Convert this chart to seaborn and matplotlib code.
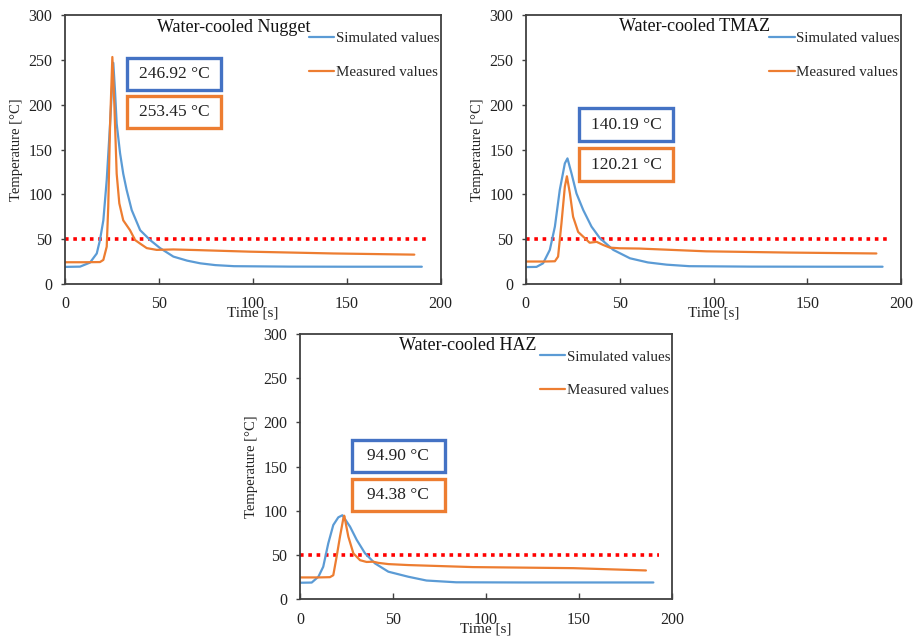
import numpy as np
import pandas as pd
import matplotlib
matplotlib.use("Agg")
import matplotlib.pyplot as plt
from matplotlib.patches import Rectangle
import seaborn as sns

# ---- data -------------------------------------------------------------
# Water-cooled Nugget
nugget_sim_t = [0, 8, 13.3, 16.9, 18.6, 20.4, 22.2, 24, 25.7, 26.6, 27.5, 29.3,
                31, 32.8, 35.5, 40, 45.3, 50.6, 57.7, 65, 72, 80, 90, 120, 150, 190]
nugget_sim_T = [19, 19.3, 23.8, 34, 49, 71, 116, 179, 246.92, 216, 179, 146,
                123, 105, 82.5, 60, 49, 40, 30.5, 26, 23, 21, 19.8, 19.3, 19.2, 19.2]
nugget_meas_t = [0, 10, 18.6, 20.4, 22.2, 23, 24, 25.2, 26.3, 27.5, 28.9, 31,
                 34.6, 37.3, 40, 43.5, 48.8, 57.7, 70, 98.5, 143, 186]
nugget_meas_T = [24.2, 24.2, 24.4, 26.8, 41.6, 86, 179, 253.45, 198, 123, 90, 71,
                 60, 49, 45, 40, 38, 38.5, 37.8, 36, 34, 32.7]

# Water-cooled TMAZ
tmaz_sim_t = [0, 5.7, 9.2, 12.8, 15.5, 18.1, 20.8, 22.2, 24.4, 27, 30.6, 35,
              39.5, 46.6, 55.5, 65, 75, 87, 120, 160, 190]
tmaz_sim_T = [18.8, 19, 23, 38, 64, 105, 134.6, 140.19, 123, 101, 82.5, 64,
              51, 38, 28.6, 24, 21.5, 19.8, 19.3, 19.2, 19.2]
tmaz_meas_t = [0, 10, 15.5, 17.2, 19, 20.8, 21.9, 23.5, 25.2, 27.9, 31.5, 34,
               37.7, 41.2, 44.8, 50, 60.4, 96, 140, 186.7]
tmaz_meas_T = [25, 25, 25.3, 30.5, 67.7, 108.6, 120.21, 101, 75, 58, 51, 46,
               47, 43.5, 40.5, 39.8, 39.5, 36.4, 35, 34]

# Water-cooled HAZ
haz_sim_t = [0, 6.3, 9.9, 12.5, 15.2, 17.9, 20.6, 22.8, 26.9, 30.5, 35, 40.3,
             47.5, 58.2, 68, 84, 120, 190]
haz_sim_T = [18.5, 18.7, 25.3, 36.6, 63, 83.8, 92.5, 94.90, 82, 67, 51.7, 40.4,
             31, 25.3, 21, 19, 18.8, 18.8]
haz_meas_t = [0, 10, 16.1, 17.9, 19.7, 21.5, 23.3, 23.8, 26, 28.7, 32.3, 35.8,
              39.4, 42.1, 47.5, 58.2, 93, 147, 186]
haz_meas_T = [24.5, 24.5, 24.8, 27, 48, 70.6, 91.3, 94.38, 70.6, 51.7, 44, 42,
              42.3, 41, 39.6, 38.5, 36.2, 35, 32.4]

titles = ["Water-cooled Nugget", "Water-cooled TMAZ", "Water-cooled HAZ"]
series_names = ["Simulated values", "Measured values"]
threshold_T = 50
threshold_span = [0, 193]
x_ticks = [0, 50, 100, 150, 200]
y_ticks = [0, 50, 100, 150, 200, 250, 300]

# ---- styling ----------------------------------------------------------
sns.set_style("white")
plt.rcParams["font.family"] = ["Liberation Serif", "DejaVu Serif"]

SIM_COLOR = "#5B9BD5"
MEAS_COLOR = "#ED7D31"
SIM_BOX = "#4472C4"
MEAS_BOX = "#ED7D31"
SPINE = "#404040"
TEXT = "#222222"

fig = plt.figure(figsize=(9.16, 6.38), dpi=100)
axes = [
    fig.add_axes([0.071, 0.555, 0.410, 0.421]),
    fig.add_axes([0.574, 0.555, 0.410, 0.421]),
    fig.add_axes([0.3275, 0.061, 0.4061, 0.4155]),
]

panels = [
    (nugget_sim_t, nugget_sim_T, nugget_meas_t, nugget_meas_T),
    (tmaz_sim_t, tmaz_sim_T, tmaz_meas_t, tmaz_meas_T),
    (haz_sim_t, haz_sim_T, haz_meas_t, haz_meas_T),
]

# value boxes: (x0, width) in data units, and y ranges for blue / orange box
box_geom = [
    (33.2, 49.7, (217, 252), (174, 210)),
    (28.4, 50.2, (160, 196), (115, 151.5)),
    (27.8, 50.2, (143.6, 180), (100, 136)),
]
title_y = [286, 287, 287]

for ax, (st, sT, mt, mT), title, (bx, bw, yb, yo), ty in zip(
        axes, panels, titles, box_geom, title_y):
    df = pd.concat([
        pd.DataFrame({"Time": st, "Temperature": sT, "Series": series_names[0]}),
        pd.DataFrame({"Time": mt, "Temperature": mT, "Series": series_names[1]}),
    ], ignore_index=True)
    sns.lineplot(data=df, x="Time", y="Temperature", hue="Series",
                 palette=[SIM_COLOR, MEAS_COLOR], estimator=None, sort=False,
                 linewidth=1.6, ax=ax)
    for ln in ax.get_lines():
        ln.set_solid_joinstyle("round")

    ax.plot(threshold_span, [threshold_T, threshold_T], color="#FF0000",
            linestyle=(0, (1, 1.3)), linewidth=2.6, zorder=1)

    ax.set_xlim(0, 200)
    ax.set_ylim(0, 300)
    ax.set_xticks(x_ticks)
    ax.set_yticks(y_ticks)
    ax.tick_params(axis="x", direction="in", length=4, width=1, color=SPINE,
                   pad=9, labelsize=11.5, labelcolor=TEXT)
    ax.tick_params(axis="y", direction="out", length=3, width=1, color=SPINE,
                   pad=6, labelsize=11.5, labelcolor=TEXT)
    ax.tick_params(bottom=True, left=True)
    for sp in ax.spines.values():
        sp.set_color(SPINE)
        sp.set_linewidth(1.3)

    ax.set_xlabel("Time [s]", fontsize=11, labelpad=-4, color=TEXT)
    ax.set_ylabel("Temperature [°C]", fontsize=10.5, labelpad=4, color=TEXT)

    ax.text(90, ty, title, ha="center", va="center", fontsize=13,
            color="#111111")

    ax.legend(loc="upper right", bbox_to_anchor=(1.0, 0.945), frameon=False,
              fontsize=10.8, handlelength=1.7, handletextpad=0.1,
              labelspacing=1.35, borderaxespad=0.1, borderpad=0)

    sim_peak = max(sT)
    meas_peak = max(mT)
    for (y0, y1), color, val in [(yb, SIM_BOX, sim_peak), (yo, MEAS_BOX, meas_peak)]:
        ax.add_patch(Rectangle((bx, y0), bw, y1 - y0, fill=True, facecolor="white",
                               edgecolor=color, linewidth=2.4, zorder=5))
        ax.text(bx + bw / 2, (y0 + y1) / 2, f"{val:.2f} °C", ha="center",
                va="center", fontsize=12.5, color=TEXT, zorder=6)

fig.savefig("out.png", dpi=100)
